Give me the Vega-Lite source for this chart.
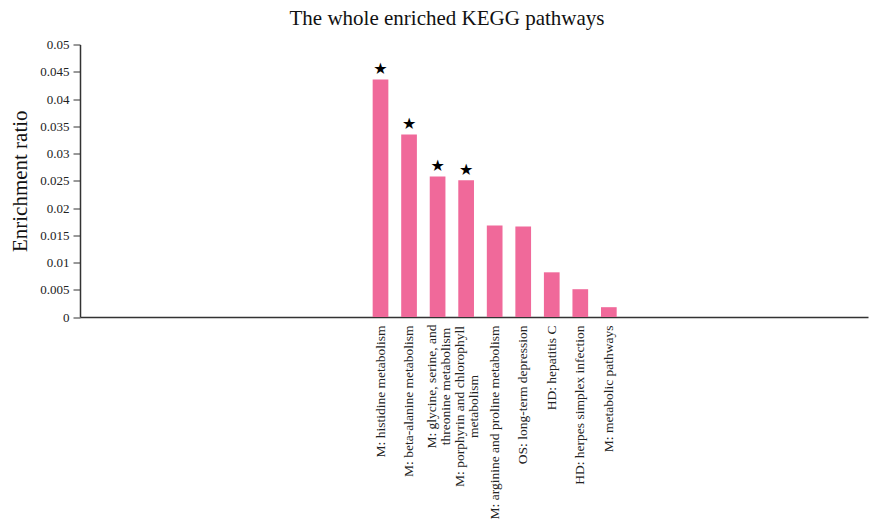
{
  "$schema": "https://vega.github.io/schema/vega-lite/v6.json",
  "width": 788,
  "height": 272.5,
  "autosize": {"type": "none"},
  "padding": {"left": 80, "top": 44.5, "right": 1, "bottom": 209},
  "background": "white",
  "title": {
    "text": "The whole enriched KEGG pathways",
    "font": "Liberation Serif",
    "fontSize": 21,
    "fontWeight": "normal",
    "color": "#111",
    "anchor": "middle",
    "dx": -27,
    "offset": 10
  },
  "data": {
    "values": [
      {"pathway": "M: histidine metabolism", "ratio": 0.0436, "star": "★"},
      {"pathway": "M: beta-alanine metabolism", "ratio": 0.0335, "star": "★"},
      {"pathway": "M: glycine, serine, and\nthreonine metabolism", "ratio": 0.0258, "star": "★"},
      {"pathway": "M: porphyrin and chlorophyll\nmetabolism", "ratio": 0.0251, "star": "★"},
      {"pathway": "M: arginine and proline metabolism", "ratio": 0.0168, "star": ""},
      {"pathway": "OS: long-term depression", "ratio": 0.0166, "star": ""},
      {"pathway": "HD: hepatitis C", "ratio": 0.0082, "star": ""},
      {"pathway": "HD: herpes simplex infection", "ratio": 0.0051, "star": ""},
      {"pathway": "M: metabolic pathways", "ratio": 0.0018, "star": ""}
    ]
  },
  "encoding": {
    "x": {
      "field": "pathway",
      "type": "nominal",
      "sort": null,
      "scale": {
        "domain": ["_a0", "_a1", "_a2", "_a3", "_a4", "_a5", "_a6", "_a7", "_a8", "_a9",
          "M: histidine metabolism", "M: beta-alanine metabolism", "M: glycine, serine, and\nthreonine metabolism", "M: porphyrin and chlorophyll\nmetabolism", "M: arginine and proline metabolism", "OS: long-term depression", "HD: hepatitis C", "HD: herpes simplex infection", "M: metabolic pathways",
          "_b0", "_b1", "_b2", "_b3", "_b4", "_b5", "_b6", "_b7"],
        "paddingInner": 0.45,
        "paddingOuter": 0.53,
        "align": 0.24
      },
      "axis": {
        "title": null,
        "labelAngle": -90,
        "labelFont": "Liberation Serif",
        "labelFontSize": 13.5,
        "labelColor": "#222",
        "labelPadding": {"condition": [
          {"test": "indexof(datum.value, 'glycine') >= 0", "value": 69},
          {"test": "indexof(datum.value, 'porphyrin') >= 0", "value": 89}
        ], "value": 8},
        "labelAlign": {"condition": {"test": "indexof(datum.value, '\\n') >= 0", "value": "center"}, "value": "right"},
        "labelOffset": {"condition": {"test": "indexof(datum.value, '\\n') >= 0", "value": -6}, "value": 0},
        "labelLineHeight": 14,
        "labelExpr": "indexof(datum.label, '_') == 0 ? '' : split(datum.label, '\\n')",
        "ticks": false,
        "domainColor": "#333",
        "domainWidth": 1.5,
        "grid": false,
        "labelOverlap": false,
        "labelLimit": 300
      }
    },
    "y": {
      "field": "ratio",
      "type": "quantitative",
      "scale": {"domain": [0, 0.05], "nice": false},
      "axis": {
        "title": "Enrichment ratio",
        "titleFont": "Liberation Serif",
        "titleFontSize": 21,
        "titleFontWeight": "normal",
        "titleColor": "#111",
        "titlePadding": 9,
        "values": [0, 0.005, 0.01, 0.015, 0.02, 0.025, 0.03, 0.035, 0.04, 0.045, 0.05],
        "labelExpr": "datum.value == 0 ? '0' : format(datum.value, '.3~f')",
        "labelFont": "Liberation Serif",
        "labelFontSize": 13,
        "labelColor": "#222",
        "labelPadding": 4,
        "tickSize": 7,
        "tickColor": "#333",
        "domainColor": "#333",
        "domainWidth": 1.5,
        "grid": false
      }
    }
  },
  "layer": [
    {"mark": {"type": "bar", "color": "#F0699A"}},
    {
      "mark": {"type": "text", "baseline": "bottom", "dy": -2, "fontSize": 16, "font": "DejaVu Sans", "color": "#000"},
      "encoding": {"text": {"field": "star"}}
    }
  ],
  "config": {"view": {"stroke": null}}
}
